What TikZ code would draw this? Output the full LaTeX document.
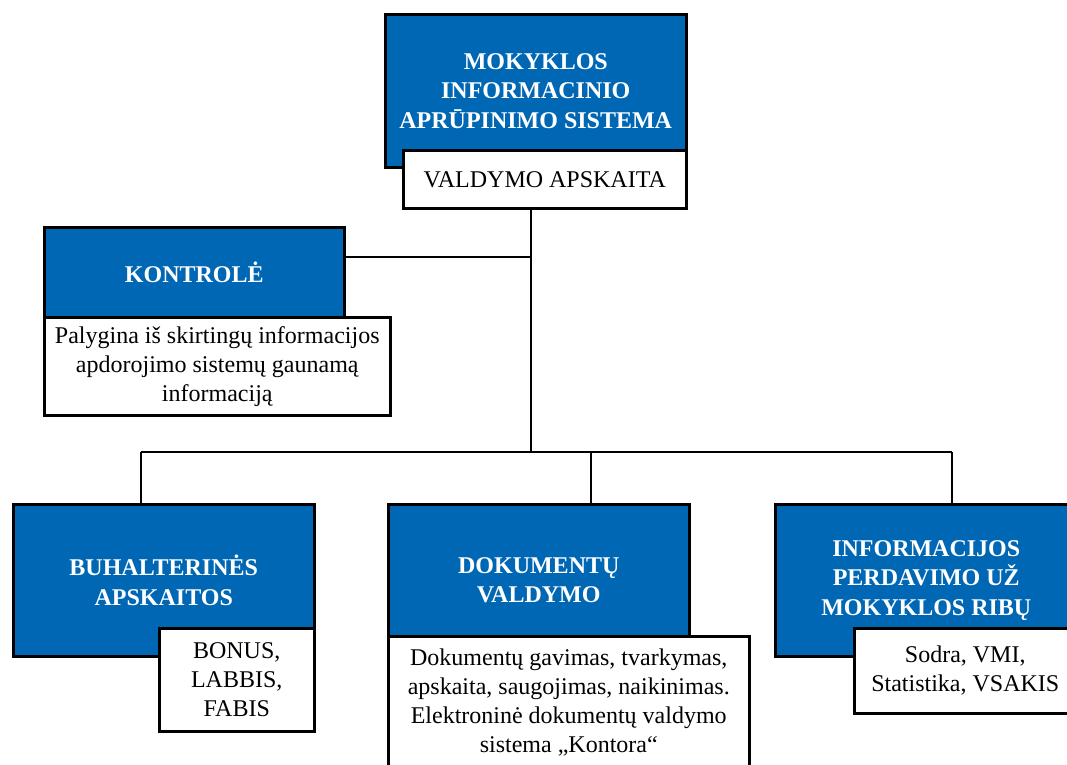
\documentclass[tikz,border=0pt]{standalone}
\usepackage{fontspec}
\setmainfont{Liberation Serif}
\usepackage{xcolor}
\definecolor{mblue}{RGB}{0,103,181}
\tikzstyle{blue box}=[
    draw = black,
    line width = 2.5pt,
    fill = mblue,
    text = white,
    font = \bfseries\fontsize{24}{29.5}\selectfont,
    align = center,
    anchor = north west,
    inner sep = 0pt
]

\begin{document}
\begin{tikzpicture}[x=1pt, y=-1pt, line width=2pt, main/.style = {draw, line width=2.5pt, fill=white, anchor=north west, align=center, inner sep=0pt, font=\fontsize{24}{29}\selectfont}]
        \path[use as bounding box] (0,0) rectangle (1067,764);
        \clip (0,0) rectangle (1067,764);

        \node[blue box, minimum width=301pt, minimum height=153pt] (1) at (384,13) {MOKYKLOS\\INFORMACINIO\\APRŪPINIMO SISTEMA};
        \node[main, minimum width=283pt, minimum height=58pt] (2) at (402,149) {VALDYMO APSKAITA};
        \node[blue box, minimum width=300pt, minimum height=90pt] (3) at (43,226) {KONTROLĖ};
        \node[main, minimum width=346pt, minimum height=98pt] (4) at (43,316) {Palygina iš skirtingų informacijos\\apdorojimo sistemų gaunamą\\informaciją};
        \node[blue box, minimum width=301pt, minimum height=152pt] (5) at (12,503) {BUHALTERINĖS\\APSKAITOS};
        \node[main, minimum width=155pt, minimum height=103pt] (6) at (158,627) {BONUS,\\LABBIS,\\FABIS};
        \node[blue box, minimum width=301pt, minimum height=152pt] (7) at (387,503) {DOKUMENTŲ\\VALDYMO};
        \node[main, minimum width=361pt, minimum height=133pt] (8) at (387,635) {Dokumentų gavimas, tvarkymas,\\apskaita, saugojimas, naikinimas.\\Elektroninė dokumentų valdymo\\sistema „Kontora“};
        \node[blue box, minimum width=302pt, minimum height=152pt] (9) at (774,503) {INFORMACIJOS\\PERDAVIMO UŽ\\MOKYKLOS RIBŲ};
        \node[main, minimum width=222pt, minimum height=85pt] (10) at (853,627) {Sodra, VMI,\\Statistika, VSAKIS};

        \coordinate (t) at (531,452);
        \coordinate (b1) at (141,452);
        \coordinate (b2) at (591,452);
        \coordinate (b3) at (952,452);

        \draw[-] (2.south -| t) -- (t);
        \draw[-] ([yshift=15pt]3.east) -- ([yshift=15pt]3.east -| t);
        \draw[-] (b1) -- (b3);
        \draw[-] (b1) -- (b1 |- 5.north);
        \draw[-] (b2) -- (b2 |- 7.north);
        \draw[-] (b3) -- (b3 |- 9.north);

    \end{tikzpicture}
\end{document}
